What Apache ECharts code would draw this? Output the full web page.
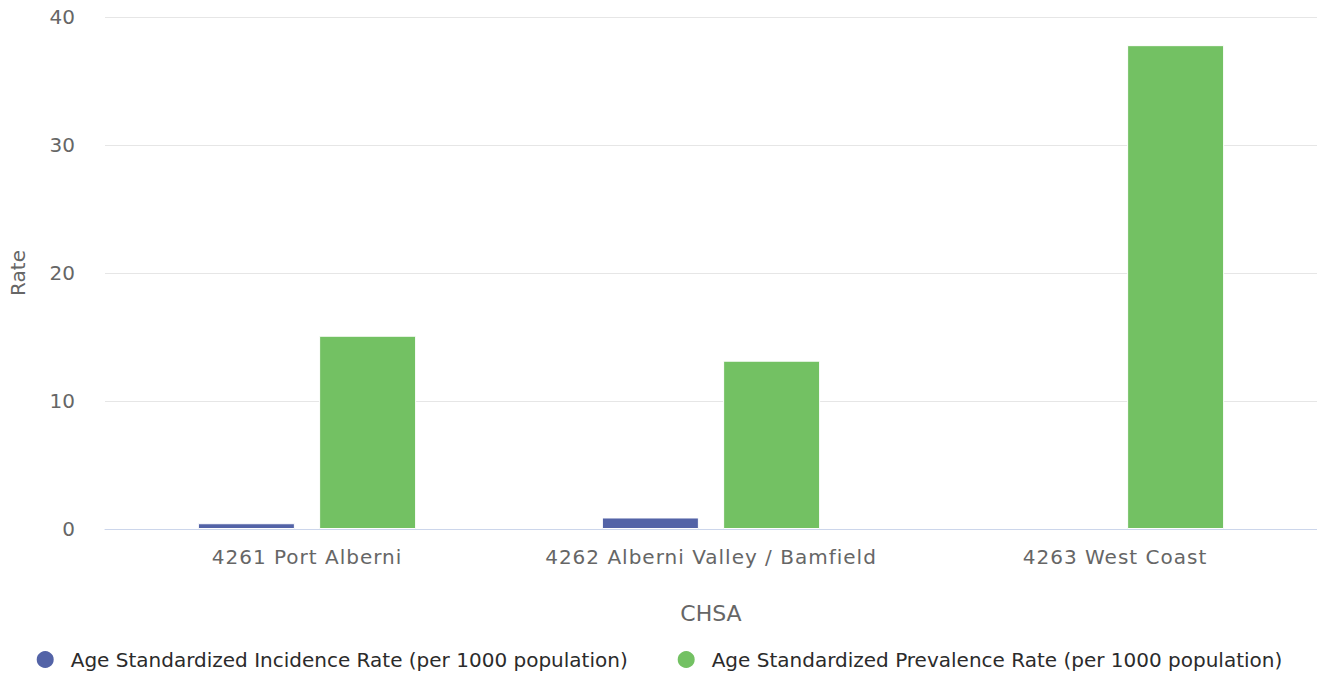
<!DOCTYPE html>
<html>
<head>
<meta charset="utf-8">
<script src="https://cdn.jsdelivr.net/npm/echarts@6/dist/echarts.min.js"></script>
<style>
  html, body { margin: 0; padding: 0; background: #fff; }
  #chart { width: 1317px; height: 677px; }
  /* category labels are drawn a little more open */
  #chart text[style*="sans-serif"] { letter-spacing: 1px; }
</style>
</head>
<body>
<div id="chart"></div>
<script>
// Community Health Service Areas
const categories = ['4261 Port Alberni', '4262 Alberni Valley / Bamfield', '4263 West Coast'];
// Rates per 1000 population
const incidenceRate = [0.45, 0.9, null];
const prevalenceRate = [15.1, 13.15, 37.8];
const yTicks = { min: 0, max: 40, interval: 10 };

const FONT = 'DejaVu Sans';
const LABEL_FONT = 'DejaVu Sans, sans-serif';
const chart = echarts.init(document.getElementById('chart'), null, { renderer: 'svg' });

chart.setOption({
  animation: false,
  backgroundColor: '#ffffff',
  textStyle: { fontFamily: FONT },
  grid: { left: 105, right: 0, top: 17, bottom: 148, containLabel: false, outerBoundsMode: 'none' },
  legend: {
    bottom: 2,
    left: 'center',
    icon: 'circle',
    itemWidth: 19,
    itemHeight: 19,
    itemGap: 48,
    textStyle: { color: '#2b2b2b', fontSize: 20, fontFamily: FONT, fontWeight: 'normal', padding: [0, 0, 0, 11] },
    data: [
      'Age Standardized Incidence Rate (per 1000 population)',
      'Age Standardized Prevalence Rate (per 1000 population)'
    ]
  },
  xAxis: {
    type: 'category',
    data: categories,
    name: 'CHSA',
    nameLocation: 'middle',
    nameGap: 73,
    nameTextStyle: { color: '#666666', fontSize: 22, fontFamily: FONT },
    axisLine: { lineStyle: { color: '#ccd6eb', width: 1 } },
    axisTick: { show: false },
    axisLabel: { color: '#666666', fontSize: 20, margin: 18, fontFamily: LABEL_FONT },
    splitLine: { show: false }
  },
  yAxis: {
    type: 'value',
    min: yTicks.min,
    max: yTicks.max,
    interval: yTicks.interval,
    name: 'Rate',
    nameLocation: 'middle',
    nameGap: 77,
    nameTextStyle: { color: '#666666', fontSize: 20, fontFamily: FONT },
    axisLine: { show: false },
    axisTick: { show: false },
    axisLabel: { color: '#666666', fontSize: 20, margin: 30, fontFamily: FONT },
    splitLine: { lineStyle: { color: '#e6e6e6', width: 1 } }
  },
  series: [
    {
      name: 'Age Standardized Incidence Rate (per 1000 population)',
      type: 'bar',
      data: incidenceRate,
      barWidth: 97,
      barGap: '25%',
      itemStyle: { color: '#5363a7', borderColor: '#ffffff', borderWidth: 1 }
    },
    {
      name: 'Age Standardized Prevalence Rate (per 1000 population)',
      type: 'bar',
      data: prevalenceRate,
      barWidth: 97,
      barGap: '25%',
      itemStyle: { color: '#73c163', borderColor: '#ffffff', borderWidth: 1 }
    }
  ]
});
</script>
</body>
</html>
